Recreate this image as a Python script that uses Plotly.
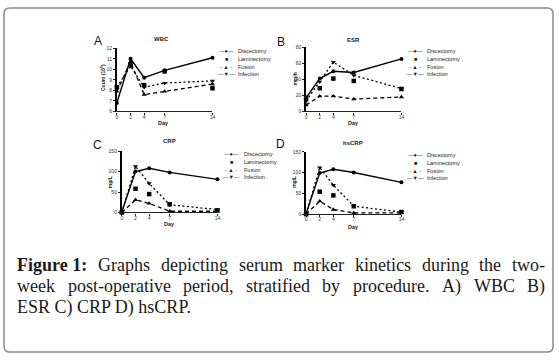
import plotly.graph_objects as go

W, H = 559, 360

# ---------------- data ----------------
days = [0, 2, 4, 7, 14]
series_names = ["Discectomy", "Laminectomy", "Fusion", "Infection"]

wbc_disc = [6.8, 11.0, 9.2, 9.9, 11.1]
wbc_lam = [8.3, 10.4, 8.5, 9.8, 8.2]
wbc_fus = [7.9, 10.7, 7.6, 7.9, 8.6]
wbc_inf = [8.3, 10.3, 8.3, 8.7, 8.9]

esr_disc = [17, 41, 50, 48.5, 65.5]
esr_lam = [17, 29, 41, 38, 28]
esr_fus = [8, 19, 19, 15.5, 18]
esr_inf = [13, 37, 61.5, 45, 28.5]

crp_disc = [1.5, 100, 108, 98, 81]
crp_lam = [0, 58, 45, 20, 5]
crp_fus = [0, 31, 22, 3, 3]
crp_inf = [0, 113, 71, 19, 7]

hs_disc = [1.5, 99, 108, 100, 76.5]
hs_lam = [0, 54, 45, 19, 5]
hs_fus = [0, 31, 11, 3, 3]
hs_inf = [0, 112, 70, 19, 5]

x_ticks = [0, 2, 4, 7, 14]
wbc_ticks = [6, 7, 8, 9, 10, 11, 12]
esr_ticks = [0, 20, 40, 60, 80]
crp_ticks = [0, 50, 100, 150]

panel_titles = ["WBC", "ESR", "CRP", "hsCRP"]
panel_letters = ["A", "B", "C", "D"]
y_titles = ["Count (10<sup>9</sup>)", "mm/h", "mg/L", "mg/L"]
x_title = "Day"
legend_symbols = ["\u2014\u25CF\u2014", "\u25A0", "- \u25B2 -", "\u2014\u25BC\u2014"]

caption_lines = [
    ["Figure 1:", "Graphs", "depicting", "serum", "marker", "kinetics", "during", "the", "two-"],
    ["week", "post-operative", "period,", "stratified", "by", "procedure.", "A)", "WBC", "B)"],
    ["ESR C) CRP D) hsCRP."],
]

# ---------------- layout geometry (pixels) ----------------
def X(px):
    return px / W

def Y(py):
    return 1 - py / H

panels = [
    dict(data=[wbc_disc, wbc_lam, wbc_fus, wbc_inf], x0=116.7, x1=213.0, yb=110.3, yt=46.0,
         yr=[6, 12], yt_vals=wbc_ticks, title_xy=(162, 37), letter_xy=(98, 39),
         ytitle_xy=(102, 76), day_xy=(164, 122.5), leg_x=(227, 236.5), leg_y=[49.3, 57.3, 65.0, 72.5]),
    dict(data=[esr_disc, esr_lam, esr_fus, esr_inf], x0=307.3, x1=403.3, yb=110.3, yt=45.0,
         yr=[0, 80], yt_vals=esr_ticks, title_xy=(355, 37.5), letter_xy=(282, 40),
         ytitle_xy=(296, 77), day_xy=(355, 122.5), leg_x=(417, 427.5), leg_y=[49.3, 57.3, 65.0, 72.7]),
    dict(data=[crp_disc, crp_lam, crp_fus, crp_inf], x0=121.7, x1=218.0, yb=213.0, yt=150.7,
         yr=[0, 150], yt_vals=crp_ticks, title_xy=(170, 140.5), letter_xy=(97, 144.5),
         ytitle_xy=(110, 182), day_xy=(170, 225), leg_x=(232, 242.5), leg_y=[154.0, 162.0, 169.5, 176.8]),
    dict(data=[hs_disc, hs_lam, hs_fus, hs_inf], x0=307.3, x1=403.3, yb=214.7, yt=151.3,
         yr=[0, 150], yt_vals=crp_ticks, title_xy=(355, 142.5), letter_xy=(282, 143.5),
         ytitle_xy=(295, 182), day_xy=(355, 227.5), leg_x=(417, 427.5), leg_y=[154.3, 162.3, 170.7, 178.3]),
]

styles = [
    dict(mode="lines+markers", line=dict(color="black", width=1.4), marker=dict(symbol="circle", size=4, color="black")),
    dict(mode="markers", marker=dict(symbol="square", size=4.5, color="black")),
    dict(mode="lines+markers", line=dict(color="black", width=1.3, dash="4px,3px"), marker=dict(symbol="triangle-up", size=4.5, color="black")),
    dict(mode="lines+markers", line=dict(color="black", width=1.3, dash="2px,2.5px"), marker=dict(symbol="triangle-down", size=4.5, color="black")),
]

fig = go.Figure()
annotations = []
layout_axes = {}
small_font = dict(family="Arial, Liberation Sans, sans-serif", size=5, color="#333")

def ann(text, xy, size, xanchor="center", angle=0, family="Arial, Liberation Sans, sans-serif", color="#222"):
    annotations.append(dict(text=text, x=X(xy[0]), y=Y(xy[1]), xref="paper", yref="paper",
                            showarrow=False, xanchor=xanchor, yanchor="middle", textangle=angle,
                            font=dict(size=size, family=family, color=color)))

for i, p in enumerate(panels):
    n = "" if i == 0 else str(i + 1)
    xa, ya = "x" + n, "y" + n
    for name, vals, st in zip(series_names, p["data"], styles):
        fig.add_trace(go.Scatter(x=days, y=vals, name=name, xaxis=xa, yaxis=ya,
                                 showlegend=False, cliponaxis=False, **st))
    layout_axes["xaxis" + n] = dict(
        domain=[X(p["x0"]), X(p["x1"])], range=[0, 14], anchor=ya,
        tickvals=x_ticks, ticks="outside", ticklen=2, tickwidth=0.8, tickcolor="#222",
        ticklabelstandoff=-2,
        showline=True, linecolor="#222", linewidth=1.2, showgrid=False, zeroline=False,
        tickfont=small_font)
    layout_axes["yaxis" + n] = dict(
        domain=[Y(p["yb"]), Y(p["yt"])], range=p["yr"], anchor=xa,
        tickvals=p["yt_vals"], ticks="outside", ticklen=2, tickwidth=0.8, tickcolor="#222",
        showline=True, linecolor="black", linewidth=1.8, showgrid=False, zeroline=False,
        tickfont=small_font)

    ann("<b>" + panel_titles[i] + "</b>", p["title_xy"], 6)
    ann(panel_letters[i], p["letter_xy"], 12, color="#111")
    ann("<b>" + y_titles[i] + "</b>", p["ytitle_xy"], 5, angle=-90)
    ann("<b>" + x_title + "</b>", p["day_xy"], 5.5)
    for sym, name, ly in zip(legend_symbols, series_names, p["leg_y"]):
        ann(sym, (p["leg_x"][0], ly), 5.5, xanchor="center")
        ann(name, (p["leg_x"][1], ly), 5.5, xanchor="left")

# ---------------- caption, justified with Times metrics ----------------
TIMES = {
    'a': 444, 'b': 500, 'c': 444, 'd': 500, 'e': 444, 'f': 333, 'g': 500, 'h': 500, 'i': 278,
    'j': 278, 'k': 500, 'l': 278, 'm': 778, 'n': 500, 'o': 500, 'p': 500, 'q': 500, 'r': 333,
    's': 389, 't': 278, 'u': 500, 'v': 500, 'w': 722, 'x': 500, 'y': 500, 'z': 444,
    'A': 722, 'B': 667, 'C': 667, 'D': 722, 'E': 611, 'F': 556, 'G': 722, 'P': 556, 'R': 667,
    'S': 556, 'W': 944, ' ': 250, '-': 333, '.': 250, ',': 250, ')': 333, '(': 333, ':': 278, '1': 500,
}
TIMES_BOLD = {'F': 611, 'i': 278, 'g': 500, 'u': 556, 'r': 444, 'e': 444, ' ': 250, '1': 500, ':': 333}
CAP_SIZE = 18
CAP_LEFT, CAP_RIGHT = 14.3, 546.0

def text_width(s, bold=False):
    table = TIMES_BOLD if bold else TIMES
    return sum(table.get(ch, 500) for ch in s) / 1000 * CAP_SIZE

line_y = [266, 288, 310]
for li, (words, ly) in enumerate(zip(caption_lines, line_y)):
    bolds = [li == 0 and wi == 0 for wi in range(len(words))]
    widths = [text_width(w, b) for w, b in zip(words, bolds)]
    justify = li < len(caption_lines) - 1 and len(words) > 1
    gap = (CAP_RIGHT - CAP_LEFT - sum(widths)) / (len(words) - 1) if justify else 0
    xpos = CAP_LEFT
    for w, wd, b in zip(words, widths, bolds):
        annotations.append(dict(text=("<b>" + w + "</b>") if b else w, x=X(xpos), y=Y(ly),
                                xref="paper", yref="paper", showarrow=False,
                                xanchor="left", yanchor="middle",
                                font=dict(size=CAP_SIZE, family="Liberation Serif, serif", color="#1a1a1a")))
        xpos += wd + gap

# rounded border
l, r, t, b, rad = 3, 556, 5, 355, 6
def P(px, py):
    return f"{X(px):.5f},{Y(py):.5f}"
path = (f"M {P(l + rad, t)} L {P(r - rad, t)} Q {P(r, t)} {P(r, t + rad)} "
        f"L {P(r, b - rad)} Q {P(r, b)} {P(r - rad, b)} L {P(l + rad, b)} "
        f"Q {P(l, b)} {P(l, b - rad)} L {P(l, t + rad)} Q {P(l, t)} {P(l + rad, t)} Z")

fig.update_layout(
    width=W, height=H, margin=dict(l=0, r=0, t=0, b=0),
    paper_bgcolor="white", plot_bgcolor="white", showlegend=False,
    annotations=annotations,
    shapes=[dict(type="path", path=path, xref="paper", yref="paper",
                 line=dict(color="#8a8a8a", width=1.5))],
    **layout_axes,
)

fig.write_html("out.html", config={"displayModeBar": False},
               post_script="document.body.style.margin='0px';document.body.style.overflow='hidden';")
